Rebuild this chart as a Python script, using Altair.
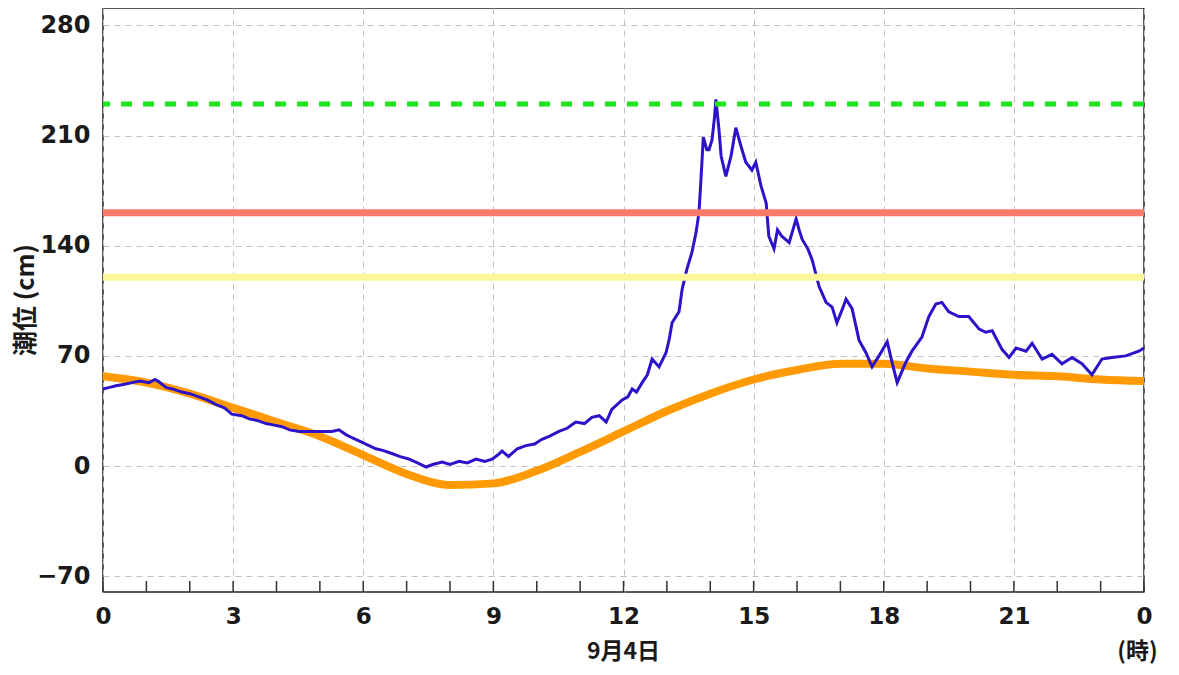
import altair as alt
import pandas as pd

# astronomical tide (hourly), cm
tide_hours = list(range(25))
tide_level = [57, 53, 46, 37, 28, 19, 7, -5, -12, -11, -3, 9, 22, 35, 46, 55, 61, 65, 65, 62, 60, 58, 57, 55, 54]

# observed tide level, cm
obs_hours = [0.00, 0.15, 0.30, 0.50, 0.67, 0.85, 1.06, 1.20, 1.29, 1.45, 1.60, 1.82, 2.00, 2.21, 2.40, 2.61, 2.80,
             2.97, 3.20, 3.37, 3.55, 3.76, 3.95, 4.13, 4.30, 4.52, 4.70, 4.91, 5.10, 5.28, 5.44, 5.60, 5.74, 5.90,
             6.06, 6.29, 6.45, 6.66, 6.85, 7.05, 7.25, 7.45, 7.60, 7.82, 8.00, 8.21, 8.40, 8.60, 8.80, 8.97, 9.10,
             9.20, 9.35, 9.55, 9.75, 9.95, 10.12, 10.30, 10.51, 10.70, 10.90, 11.10, 11.27, 11.44, 11.60, 11.73,
             11.97, 12.10, 12.20, 12.30, 12.43, 12.55, 12.66, 12.82, 12.98, 13.05, 13.12, 13.28, 13.35, 13.46,
             13.58, 13.67, 13.74, 13.79, 13.84, 13.92, 13.97, 14.04, 14.10, 14.13, 14.20, 14.25, 14.36, 14.48,
             14.59, 14.71, 14.82, 14.96, 15.05, 15.17, 15.29, 15.35, 15.47, 15.55, 15.65, 15.82, 15.98, 16.05,
             16.12, 16.25, 16.35, 16.51, 16.67, 16.81, 16.92, 17.05, 17.13, 17.27, 17.43, 17.59, 17.73, 17.89,
             18.08, 18.19, 18.31, 18.51, 18.65, 18.88, 19.04, 19.20, 19.34, 19.50, 19.73, 19.96, 20.20, 20.35,
             20.50, 20.73, 20.89, 21.05, 21.28, 21.42, 21.65, 21.88, 22.11, 22.34, 22.57, 22.80, 23.03, 23.26,
             23.58, 23.88, 24.00]
obs_level = [49, 50, 51, 52, 53, 54, 53, 55, 53.5, 50, 49, 47, 46, 44, 42, 39, 37,
             33, 32, 30, 29, 27, 26, 25, 23, 22, 22, 22, 22, 22, 23, 20, 18, 16,
             14, 11, 10, 8, 6, 4.5, 2, -0.6, 1, 2.5, 1, 3, 2, 4.4, 3, 4.4, 7,
             9.5, 6, 11, 13, 14, 17, 19, 22, 24, 28, 27, 31, 32, 28, 36,
             42, 44, 49, 47, 53, 58, 68, 63, 72, 80, 91, 98, 112, 125,
             136, 148, 161, 184, 209, 201, 201, 207, 222, 233, 214, 197, 184, 197,
             215, 203, 193, 188, 193, 178, 167, 146, 138, 150, 146, 142, 157, 150,
             144, 138, 131, 114, 104, 101, 91, 100, 106, 100, 80, 72, 63, 70,
             79, 66, 53, 66, 73, 82, 95, 103, 104, 98, 95, 95, 87, 85,
             86, 74, 69, 75, 73, 78, 68, 71, 65, 69, 65, 58, 68, 69,
             70, 73, 75]

# warning levels, cm
thr_levels = [230, 161, 120]
thr_keys = ["g", "r", "y"]

x_tick_values = [0, 3, 6, 9, 12, 15, 18, 21, 24]
minor_hours = list(range(0, 25))
y_tick_values = [-70, 0, 70, 140, 210, 280]
notes_text = ["9月4日", "(時)"]
notes_hours = [12, 23.85]
y_title = "潮位 (cm)"

W, H = 1041, 584

tide_df = pd.DataFrame({"h": tide_hours, "v": tide_level})
obs_df = pd.DataFrame({"h": obs_hours, "v": obs_level})
thr_df = pd.DataFrame({"v": thr_levels, "k": thr_keys})
minor_df = pd.DataFrame({"h": minor_hours})
notes_df = pd.DataFrame({"h": notes_hours, "t": notes_text})
ytitle_df = pd.DataFrame({"t": [y_title]})

xscale = alt.Scale(domain=[0, 24], nice=False, zero=False)
yscale = alt.Scale(domain=[-80, 291], nice=False, zero=False)

grid_color = "#c2c2c2"
label_font = "DejaVu Sans"

x_axis = alt.Axis(values=x_tick_values, labelExpr="datum.value == 24 ? '0' : datum.value",
                  grid=True, gridDash=[6, 5], gridColor=grid_color, gridWidth=1,
                  ticks=False, domain=False, title="",
                  labelFont=label_font, labelFontSize=23, labelFontWeight="bold", labelColor="#1a1a1a",
                  labelPadding=13, labelFlush=False)
y_axis = alt.Axis(values=y_tick_values, grid=True, gridDash=[6, 5], gridColor=grid_color, gridWidth=1,
                  ticks=False, domain=False, title="",
                  labelFont=label_font, labelFontSize=24, labelFontWeight="bold", labelColor="#1a1a1a",
                  labelPadding=13)

X = alt.X("h:Q", scale=xscale, axis=x_axis, title="")
Y = alt.Y("v:Q", scale=yscale, axis=y_axis, title="")

tide_line = alt.Chart(tide_df).mark_line(color="#ff9a05", strokeWidth=8, interpolate="monotone").encode(
    x=X, y=Y,
)

obs_line = alt.Chart(obs_df).mark_line(color="#2b13c9", strokeWidth=3, strokeJoin="miter").encode(
    x=X, y=Y,
)

def thr_layer(key, color, width, dash=None):
    kw = dict(color=color, strokeWidth=width)
    if dash is not None:
        kw["strokeDash"] = dash
    return alt.Chart(thr_df).transform_filter(alt.datum.k == key).mark_rule(**kw).encode(
        y=Y,
    )

green = thr_layer("g", "#1be41b", 5, [11, 11])
red = thr_layer("r", "#fa7b68", 7)
yellow = thr_layer("y", "#fbf79a", 7)

minor_ticks = alt.Chart(minor_df).mark_rule(color="#333", strokeWidth=1.5).encode(
    x=X,
    y=alt.value(H),
    y2=alt.value(H - 11),
)

notes = alt.Chart(notes_df).mark_text(font="Noto Sans CJK JP", fontSize=23, fontWeight="bold", color="#1a1a1a",
                                      align="center", baseline="middle").encode(
    x=X,
    y=alt.value(H + 60),
    text="t:N",
)

ytitle = alt.Chart(ytitle_df).mark_text(font="Noto Sans CJK JP", fontSize=25, fontWeight="bold", color="#1a1a1a",
                                        align="center", baseline="middle", angle=270).encode(
    x=alt.value(-77),
    y=alt.value(H / 2),
    text="t:N",
)

chart = alt.layer(tide_line, obs_line, yellow, red, green, minor_ticks, notes, ytitle).properties(
    width=W, height=H,
    padding={"left": 6, "top": 0, "right": 0, "bottom": 2},
).configure_view(stroke="#222", strokeWidth=1.5)

chart.save("out.html", embed_options={"renderer": "svg", "actions": False})
